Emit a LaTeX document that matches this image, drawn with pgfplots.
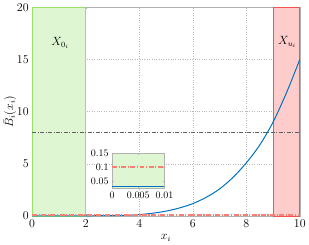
\documentclass[border=0pt]{standalone}
\usepackage{pgfplots}
\pgfplotsset{compat=1.18}
\definecolor{mblue}{rgb}{0,0.447,0.741}
\definecolor{mred}{rgb}{0.96,0.5,0.45}
\definecolor{gfill}{rgb}{0.87,0.965,0.825}
\definecolor{gedge}{rgb}{0.6,0.88,0.42}
\definecolor{rfill}{rgb}{1,0.8,0.8}
\definecolor{redge}{rgb}{0.96,0.32,0.32}
\begin{document}
\begin{tikzpicture}
\begin{axis}[
  scale only axis, width=269pt, height=210pt,
  xmin=0, xmax=10, ymin=0, ymax=20,
  xtick={0,2,4,6,8,10}, ytick={0,5,10,15,20},
  grid=major, grid style={dotted, gray!55, line width=0.5pt},
  axis line style={gray!60},
  tick align=inside, major tick length=2pt, tick style={gray!60},
  ticklabel style={font=\large},
  label style={font=\large},
  xlabel={$x_i$}, ylabel={$\bar{B}_i(x_i)$},
  xlabel style={yshift=0pt}, ylabel style={yshift=-6pt},
]
\addplot[fill=gfill, draw=gedge, line width=0.8pt] coordinates {(0,0) (2,0) (2,20) (0,20)} -- cycle;
\addplot[fill=rfill, draw=redge, line width=0.8pt] coordinates {(9,0) (10,0) (10,20) (9,20)} -- cycle;
\addplot[color=gray!75!black, line width=0.6pt, dash pattern=on 4pt off 1.5pt on 1pt off 1.5pt] coordinates {(0,8) (10,8)};
\addplot[color=mblue, line width=1pt, smooth] coordinates {
(0,0.03) (1,0.03) (2,0.035) (3,0.05) (3.5,0.08) (4,0.15) (4.5,0.28) (5,0.48) (5.5,0.78)
(6,1.2) (6.5,1.8) (7,2.6) (7.5,3.7) (8,5.1) (8.5,6.8) (9,9.0) (9.5,11.8) (10,15.0)};
\addplot[color=mred, line width=1.4pt, dash pattern=on 5pt off 1.5pt on 1.2pt off 1.5pt] coordinates {(0,0.1) (10,0.1)};
\node[font=\large] at (axis cs:1.05,16.6) {$X_{0_i}$};
\node[font=\large] at (axis cs:9.53,16.7) {$X_{u_i}$};
\end{axis}
\begin{axis}[
  at={(80.3pt,28pt)}, anchor=south west,
  scale only axis, width=52.7pt, height=35.4pt,
  xmin=0, xmax=0.01, ymin=0.025, ymax=0.15,
  xtick={0,0.005,0.01}, xticklabels={0,0.005,0.01},
  ytick={0.05,0.1,0.15}, yticklabels={0.05,0.1,0.15},
  scaled x ticks=false, scaled y ticks=false,
  axis background/.style={fill=gfill},
  axis line style={gray!60},
  tick align=inside, major tick length=1.5pt, tick style={gray!60},
  ticklabel style={font=\normalsize},
]
\addplot[color=mred, line width=1.4pt, dash pattern=on 5pt off 1.5pt on 1.2pt off 1.5pt] coordinates {(0,0.1) (0.01,0.1)};
\addplot[color=mblue, line width=1pt] coordinates {(0,0.03) (0.01,0.03)};
\end{axis}
\end{tikzpicture}
\end{document}
